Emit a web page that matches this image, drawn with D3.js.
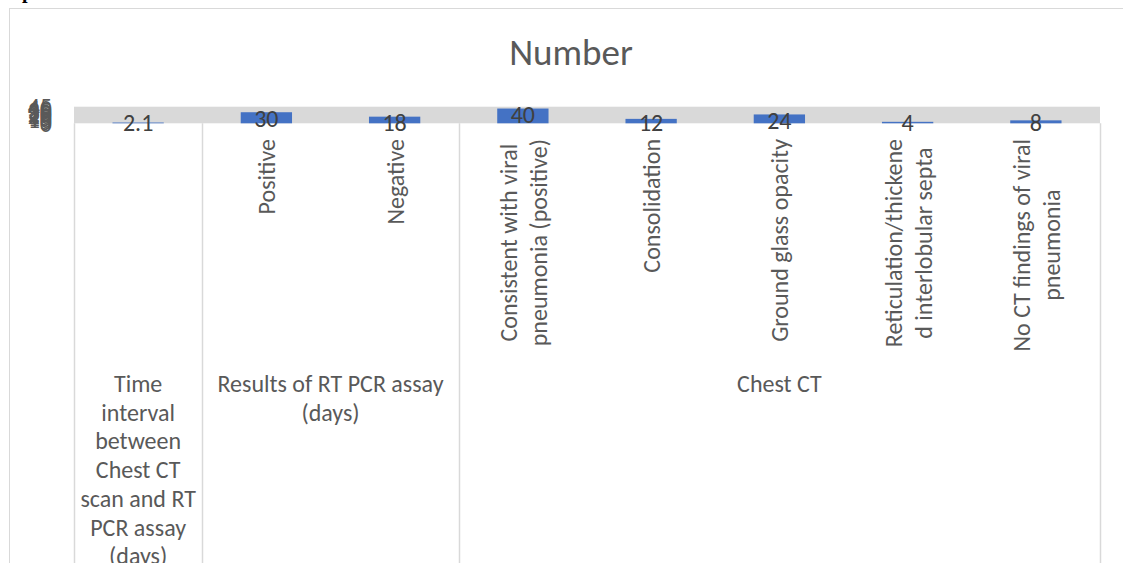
<!DOCTYPE html>
<html>
<head>
<meta charset="utf-8">
<script src="https://cdn.jsdelivr.net/npm/d3@7"></script>
<style>
  html, body { margin: 0; padding: 0; background: #fff; overflow: hidden; }
  text { font-family: Carlito, Lato, "Open Sans", sans-serif; }
</style>
</head>
<body>
<svg id="chart" width="1123" height="563"></svg>
<script>
// chart values
var categories = [
  ["Time"],
  ["Positive"],
  ["Negative"],
  ["Consistent with viral", "pneumonia (positive)"],
  ["Consolidation"],
  ["Ground glass opacity"],
  ["Reticulation/thickene", "d interlobular septa"],
  ["No CT findings of viral", "pneumonia"]
];
var values = [2.1, 30, 18, 40, 12, 24, 4, 8];
var groupLabels = [
  ["Time", "interval", "between", "Chest CT", "scan and RT", "PCR assay", "(days)"],
  ["Results of RT PCR assay", "(days)"],
  ["Chest CT"]
];
var groupSizes = [1, 2, 5];
var yTicks = [0, 5, 10, 15, 20, 25, 30, 35, 40, 45];
var title = "Number";

var svg = d3.select("#chart"),
    W = 1123, H = 563,
    plot = {left: 74, right: 1100, top: 106.7, bottom: 123.3};

var textColor = "#595959",
    border = "#d9d9d9",
    barColor = "#4472c4",
    fs = "24px";

// stray glyph from the page above the chart
svg.append("text")
  .attr("x", 22).attr("y", -2.5)
  .style("font-family", "'Liberation Serif', serif")
  .style("font-weight", "bold")
  .style("font-size", "20px")
  .attr("fill", "#000")
  .text("p");

// chart frame
svg.append("rect")
  .attr("x", 9.5).attr("y", 8.5)
  .attr("width", W + 10).attr("height", H)
  .attr("fill", "#fff")
  .attr("stroke", border);

svg.append("text")
  .attr("x", 571).attr("y", 65)
  .attr("text-anchor", "middle")
  .attr("fill", textColor)
  .style("font-size", "37px")
  .text(title);

var idx = d3.range(values.length);

var x = d3.scaleBand()
  .domain(idx)
  .range([plot.left, plot.right])
  .paddingInner(0.6)
  .paddingOuter(0.3);

var y = d3.scaleLinear()
  .domain([0, 45])
  .range([plot.bottom, plot.top]);

// plot area
svg.append("rect")
  .attr("x", plot.left).attr("y", plot.top)
  .attr("width", plot.right - plot.left)
  .attr("height", plot.bottom - plot.top)
  .attr("fill", "#d9d9d9");

// y axis labels (squashed on top of each other)
svg.append("g")
  .selectAll("text")
  .data(yTicks)
  .enter().append("text")
    .attr("x", 52)
    .attr("y", function(d) { return y(d); })
    .attr("dy", "0.35em")
    .attr("text-anchor", "end")
    .attr("fill", textColor)
    .style("font-size", fs)
    .text(function(d) { return d; });

// bars
svg.append("g")
  .selectAll("rect")
  .data(values)
  .enter().append("rect")
    .attr("x", function(d, i) { return x(i); })
    .attr("width", x.bandwidth())
    .attr("y", function(d) { return y(d); })
    .attr("height", function(d) { return y(0) - y(d); })
    .attr("fill", barColor);

// data labels
svg.append("g")
  .selectAll("text")
  .data(values)
  .enter().append("text")
    .attr("x", function(d, i) { return x(i) + x.bandwidth() / 2; })
    .attr("y", function(d) { return Math.min(y(d) + 14.5, 130.5); })
    .attr("text-anchor", "middle")
    .attr("fill", "#404040")
    .style("font-size", fs)
    .text(function(d) { return d; });

// separators of the category table
var step = x.step();
var bounds = [0];
groupSizes.forEach(function(n, i) { bounds.push(bounds[i] + n); });

svg.append("g")
  .selectAll("line")
  .data(bounds)
  .enter().append("line")
    .attr("x1", function(d) { return Math.round(plot.left + d * step) + 0.5; })
    .attr("x2", function(d) { return Math.round(plot.left + d * step) + 0.5; })
    .attr("y1", plot.bottom)
    .attr("y2", H)
    .attr("stroke", border)
    .attr("stroke-width", 1.5);

// rotated category labels (first one is hidden behind the group)
var labelTop = 139;
var cat = svg.append("g")
  .selectAll("g")
  .data(categories)
  .enter().filter(function(d, i) { return i > 0; }).append("g");

cat.each(function(lines, k) {
  var i = k + 1;
  var g = d3.select(this);
  var cx = x(i) + x.bandwidth() / 2;
  var t = g.selectAll("text")
    .data(lines)
    .enter().append("text")
      .attr("fill", textColor)
      .attr("text-anchor", "middle")
      .style("font-size", fs)
      .text(function(d) { return d; });
  var maxLen = d3.max(t.nodes(), function(n) { return n.getComputedTextLength(); });
  var lh = 30;
  t.attr("transform", function(d, j) {
    var off = (j - (lines.length - 1) / 2) * lh;
    return "translate(" + (cx + off + 9) + "," + (labelTop + maxLen / 2) + ") rotate(-90)";
  });
});

// group labels
svg.append("g")
  .selectAll("text")
  .data(groupLabels)
  .enter().append("text")
    .attr("fill", textColor)
    .attr("text-anchor", "middle")
    .style("font-size", fs)
    .attr("x", function(d, i) { return plot.left + (bounds[i] + bounds[i + 1]) / 2 * step; })
    .attr("y", 392)
  .each(function(lines) {
    var el = d3.select(this), cx = el.attr("x");
    lines.forEach(function(s, j) {
      el.append("tspan").attr("x", cx).attr("dy", j ? 28.7 : 0).text(s);
    });
  });
</script>
</body>
</html>
